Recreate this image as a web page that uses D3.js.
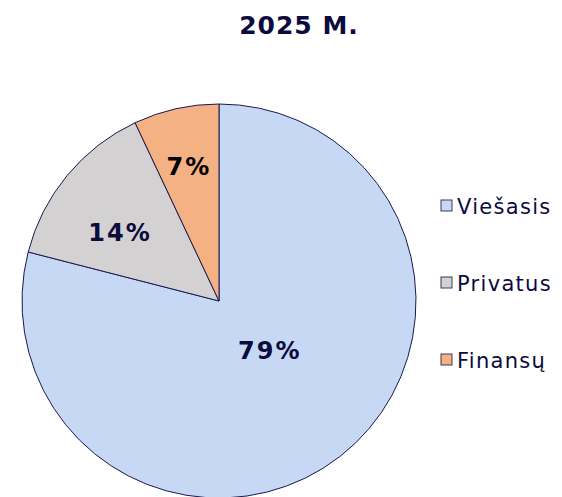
<!DOCTYPE html>
<html>
<head>
<meta charset="utf-8">
<script src="https://cdn.jsdelivr.net/npm/d3@7"></script>
<style>
  body { margin: 0; background: #fff; }
  text { font-family: "DejaVu Sans", Verdana, sans-serif; }
</style>
</head>
<body>
<div id="chart"></div>
<script>
const categories = ["Viešasis", "Privatus", "Finansų"];
const values = [79, 14, 7];
const colors = ["#C6D8F3", "#D3D1D2", "#F4B183"];
const title = "2025 M.";

const width = 562, height = 497;
const cx = 219, cy = 301, radius = 197;

const svg = d3.select("#chart").append("svg")
    .attr("width", width)
    .attr("height", height);

svg.append("text")
    .attr("x", 299).attr("y", 34)
    .attr("text-anchor", "middle")
    .attr("font-size", 25)
    .attr("font-weight", "bold")
    .attr("letter-spacing", 1)
    .attr("fill", "#0B0B3E")
    .text(title);

const data = categories.map((c, i) => ({name: c, value: values[i], color: colors[i]}));

const pie = d3.pie().sort(null).value(d => d.value);
const arc = d3.arc().innerRadius(0).outerRadius(radius);

const g = svg.append("g").attr("transform", `translate(${cx},${cy})`);

g.selectAll("path")
  .data(pie(data))
  .join("path")
    .attr("d", arc)
    .attr("fill", d => d.data.color)
    .attr("stroke", "#1A1A50")
    .attr("stroke-width", 1);

// label placement per slice: radius fraction and angle nudge (degrees)
const labelR = [0.36, 0.61, 0.70];
const labelTurn = [-8, -5, 0];
g.selectAll("text.lbl")
  .data(pie(data))
  .join("text")
    .attr("class", "lbl")
    .attr("transform", (d, i) => {
      const a = (d.startAngle + d.endAngle) / 2 + labelTurn[i] * Math.PI / 180;
      const r = radius * labelR[i];
      return `translate(${Math.sin(a) * r},${-Math.cos(a) * r})`;
    })
    .attr("text-anchor", "middle")
    .attr("dy", "0.36em")
    .attr("font-size", 24)
    .attr("font-weight", "bold")
    .attr("letter-spacing", 2)
    .attr("fill", (d, i) => i === 2 ? "#000" : "#0B0B3E")
    .text(d => d.data.value + "%");

// legend
const legend = svg.append("g").attr("transform", "translate(441,206)");
const item = legend.selectAll("g")
  .data(data)
  .join("g")
    .attr("transform", (d, i) => `translate(0,${i * 77})`);

item.append("rect")
    .attr("x", 0).attr("y", -6)
    .attr("width", 11).attr("height", 11)
    .attr("fill", d => d.color)
    .attr("stroke", "#3A3A5A")
    .attr("stroke-width", 1);

item.append("text")
    .attr("x", 16).attr("y", 0)
    .attr("dy", "0.36em")
    .attr("font-size", 21)
    .attr("letter-spacing", 1.3)
    .attr("fill", "#0B0B3E")
    .text(d => d.name);
</script>
</body>
</html>
